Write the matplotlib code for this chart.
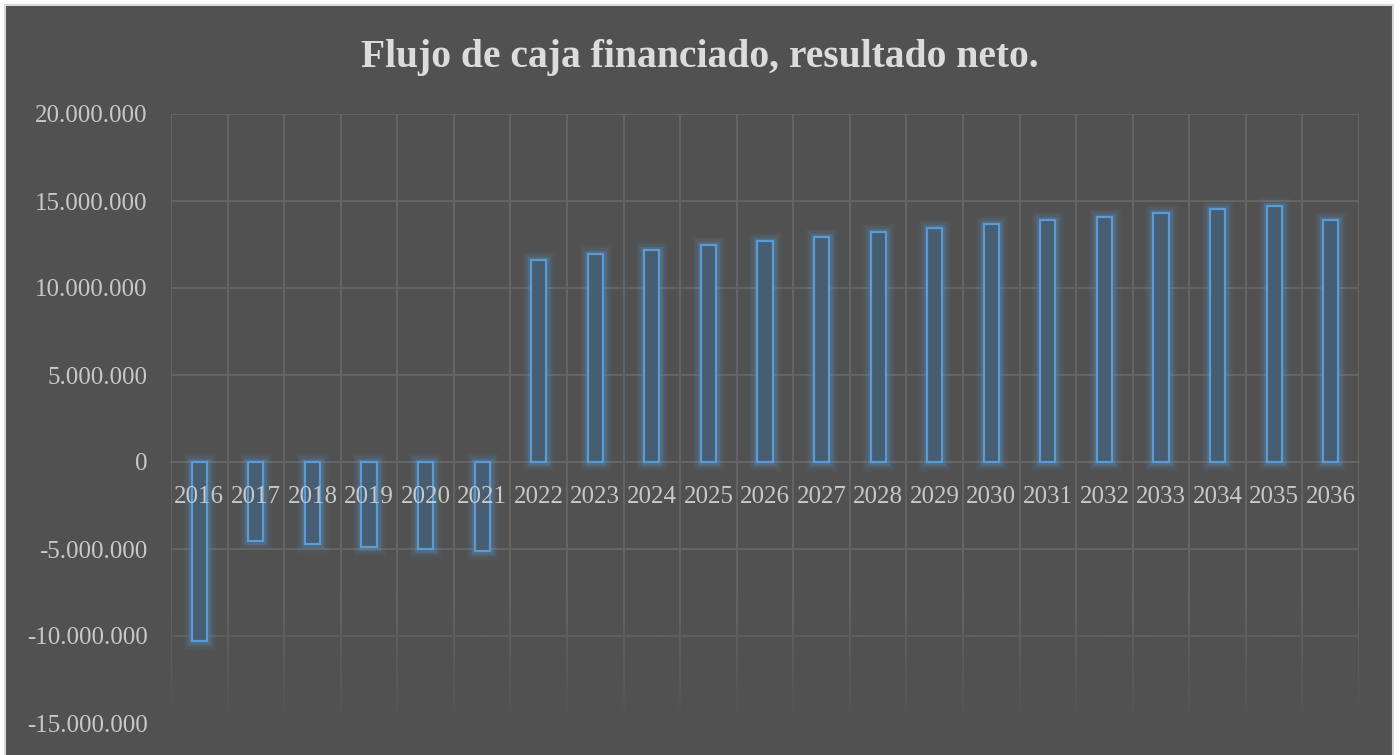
import matplotlib
matplotlib.use("Agg")
import matplotlib.pyplot as plt
import matplotlib.patheffects as pe
from matplotlib.patches import Rectangle
from matplotlib.ticker import FuncFormatter, MultipleLocator
import numpy as np

years = [str(y) for y in range(2016, 2037)]
values = [-10300000, -4530000, -4720000, -4870000, -5000000, -5120000,
          11620000, 11930000, 12200000, 12450000, 12700000, 12950000,
          13200000, 13420000, 13680000, 13880000, 14100000, 14330000,
          14540000, 14730000, 13900000]
title = "Flujo de caja financiado, resultado neto."

BG = "#515151"
GRID = "#676767"
TXT = "#c8c8c8"
EDGE = "#5b9bd5"
FILL = "#475d72"
FONT = "Liberation Serif"

fig = plt.figure(figsize=(14, 7.55), dpi=100, facecolor="white")
fig.patches.append(Rectangle((5 / 1400, -0.01), 1388 / 1400, 1 - 5 / 755 + 0.01,
                             transform=fig.transFigure, facecolor=BG,
                             edgecolor="#d9d9d9", linewidth=1.5, zorder=-10))

ax = fig.add_axes([171 / 1400, 1 - 723 / 755, 1188 / 1400, (723 - 114) / 755])
ax.set_zorder(1)
ax.set_facecolor("none")
ax.set_axisbelow(False)

x = np.arange(len(years))
bars = ax.bar(x, values, width=0.27, color=FILL, edgecolor=EDGE, linewidth=1.6, zorder=2.3)
for b in bars:
    b.set_path_effects([pe.Stroke(linewidth=12, foreground=EDGE, alpha=0.07),
                        pe.Stroke(linewidth=8.5, foreground=EDGE, alpha=0.11),
                        pe.Stroke(linewidth=5, foreground=EDGE, alpha=0.2),
                        pe.Normal()])

ax.set_xlim(-0.5, len(years) - 0.5)
ax.set_ylim(-15000000, 20000000)
ax.yaxis.set_major_locator(MultipleLocator(5000000))
ax.yaxis.set_major_formatter(FuncFormatter(lambda v, p: f"{int(round(v)):,}".replace(",", ".")))
ax.set_xticks(x)
ax.set_xticklabels(years)

# gridlines (drawn as plain lines so the bottom fade can cover them)
for yv in np.arange(-10000000, 20000001, 5000000):
    ax.axhline(yv, color=GRID, linewidth=1.3, zorder=1)
for xv in np.arange(-0.5, len(years), 1.0):
    ax.axvline(xv, color=GRID, linewidth=1.3, zorder=1)

# fade toward the bottom of the plot area
rgba = np.zeros((200, 1, 4))
rgba[..., :3] = matplotlib.colors.to_rgb(BG)
rgba[..., 3] = np.clip(np.linspace(0, 1, 200) ** 1.2, 0, 1)[:, None]
ax.imshow(rgba, extent=(-0.5, len(years) - 0.5, -15000000, -7500000),
          origin="upper", aspect="auto", zorder=2.1)
ax.set_xlim(-0.5, len(years) - 0.5)
ax.set_ylim(-15000000, 20000000)

for s in ["top", "right", "left"]:
    ax.spines[s].set_visible(False)
ax.spines["bottom"].set_position(("data", 0))
ax.spines["bottom"].set_color(GRID)
ax.spines["bottom"].set_linewidth(1.3)
ax.spines["bottom"].set_zorder(1)

ax.tick_params(axis="y", length=0, pad=17, labelsize=18, labelcolor=TXT)
ax.tick_params(axis="x", which="major", length=0, pad=17, labelsize=18, labelcolor=TXT)
for lab in ax.get_xticklabels() + ax.get_yticklabels():
    lab.set_fontfamily(FONT)

fig.text(0.5, 1 - 57 / 755, title, ha="center", va="center", fontsize=28.5,
         fontweight="bold", color="#dcdcdc", family=FONT)

fig.savefig("out.png", dpi=100, facecolor="white")
